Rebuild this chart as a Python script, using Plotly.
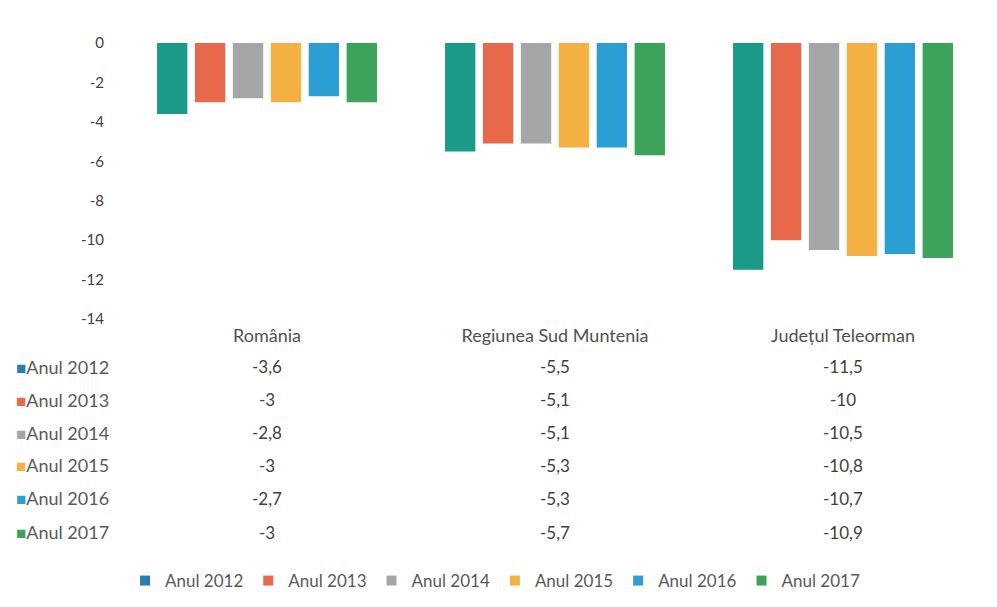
import plotly.graph_objects as go

categories = ["România", "Regiunea Sud Muntenia", "Județul Teleorman"]
series_names = ["Anul 2012", "Anul 2013", "Anul 2014", "Anul 2015", "Anul 2016", "Anul 2017"]
v2012 = [-3.6, -5.5, -11.5]
v2013 = [-3.0, -5.1, -10.0]
v2014 = [-2.8, -5.1, -10.5]
v2015 = [-3.0, -5.3, -10.8]
v2016 = [-2.7, -5.3, -10.7]
v2017 = [-3.0, -5.7, -10.9]
series_values = [v2012, v2013, v2014, v2015, v2016, v2017]
y_ticks = [0, -2, -4, -6, -8, -10, -12, -14]
y_ticktext = ["0", "-2", "-4", "-6", "-8", "-10", "-12", "-14"]

bar_colors = ["#1b9a87", "#e8694a", "#a6a6a6", "#f5b043", "#2b9fd3", "#3ea35a"]
key_colors = ["#2a7db2", "#e8694a", "#a6a6a6", "#f5b043", "#2b9fd3", "#3ea35a"]

OFF = 8  # page body margin
W, H = 997 - 2 * OFF, 607 - 2 * OFF
top, bottom_px = 42 - OFF, 320 - OFF
left_px, right_px = 123 - OFF, 987 - OFF
ph = bottom_px - top
pw = right_px - left_px

def py(p):
    return (bottom_px - (p - OFF)) / ph

def px(p):
    return ((p - OFF) - left_px) / pw

fig = go.Figure()
for name, vals, col in zip(series_names, series_values, bar_colors):
    fig.add_trace(go.Bar(x=categories, y=vals, name=name, marker_color=col,
                         marker_line_width=0, showlegend=False))
for name, col in zip(series_names, key_colors):
    fig.add_trace(go.Scatter(x=[None], y=[None], mode="markers", name=name,
                             marker=dict(symbol="square", size=10, color=col)))

txt = "#404040"
font = "Lato, 'Open Sans', sans-serif"
anns = []
row_y = [368, 401, 434, 467, 500, 534]
for i, (name, vals, col) in enumerate(zip(series_names, series_values, key_colors)):
    anns.append(dict(xref="paper", yref="paper", x=px(14), y=py(row_y[i]),
                     xanchor="left", yanchor="middle", showarrow=False,
                     text=f"<span style='color:{col};font-size:17px'>■</span>{name}",
                     font=dict(size=18, color="#595959", family=font)))
    for c, v in zip(categories, vals):
        s = ("%g" % v).replace(".", ",")
        anns.append(dict(xref="x", yref="paper", x=c, y=py(row_y[i]),
                         xanchor="center", yanchor="middle", showarrow=False,
                         text=s, font=dict(size=17, color=txt, family=font)))

fig.update_layout(
    width=W, height=H,
    margin=dict(l=left_px, r=W - right_px, t=top, b=H - bottom_px),
    paper_bgcolor="white", plot_bgcolor="white",
    barmode="group", bargap=0.21, bargroupgap=0.2,
    font=dict(family=font, color=txt, size=15),
    xaxis=dict(showgrid=False, showline=False, ticks="", side="bottom",
               tickfont=dict(size=18, color="#505050"), ticklabelstandoff=4),
    yaxis=dict(range=[-14, 0.05], tickvals=y_ticks, ticktext=y_ticktext,
               showgrid=False, zeroline=False,
               showline=False, ticks="", tickfont=dict(size=15, color=txt),
               ticklabelstandoff=18),
    legend=dict(orientation="h", x=px(495), xanchor="center", y=py(581), yanchor="middle",
                font=dict(size=17, color="#595959", family=font),
                itemwidth=30, tracegroupgap=0),
    annotations=anns,
)

fig.write_html("out.html")
